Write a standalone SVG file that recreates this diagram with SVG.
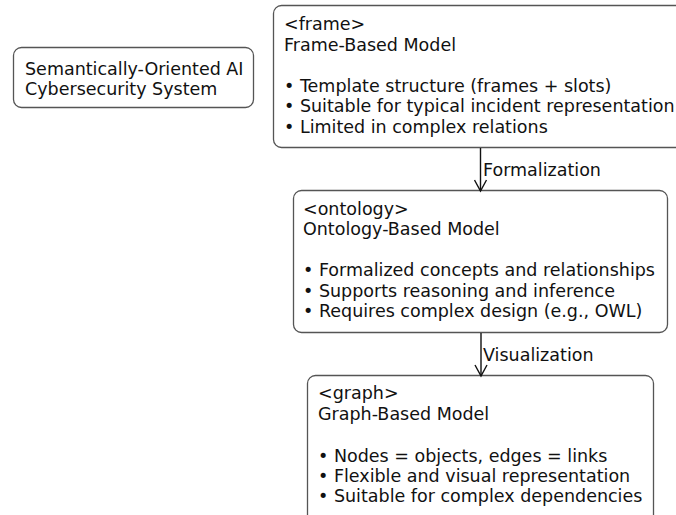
<svg xmlns="http://www.w3.org/2000/svg" width="676" height="515" viewBox="0 0 676 515">
  <defs>
    <marker id="open-arrow" viewBox="0 0 14 14" refX="12" refY="7" markerWidth="14" markerHeight="14" markerUnits="userSpaceOnUse" orient="auto">
      <path d="M1,1 L12,7 L1,13" fill="none" stroke="#111" stroke-width="1.4"/>
    </marker>
  </defs>
  <style>
    .box { fill: #ffffff; stroke: #555555; stroke-width: 1.3; }
    .txt { font-family: "DejaVu Sans", sans-serif; font-size: 17.5px; fill: #111111; }
    .edge { stroke: #111111; stroke-width: 1.4; fill: none; }
  </style>
  <rect width="676" height="515" fill="#ffffff"/>

  <g id="system">
    <rect class="box" x="13.5" y="47.5" width="240" height="60" rx="8"/>
    <text class="txt" x="25" y="75">Semantically-Oriented AI</text>
    <text class="txt" x="25" y="95">Cybersecurity System</text>
  </g>

  <g id="frame">
    <rect class="box" x="273.5" y="5.5" width="430" height="142" rx="8"/>
    <text class="txt" x="284" y="30">&lt;frame&gt;</text>
    <text class="txt" x="284" y="50.5">Frame-Based Model</text>
    <text class="txt" x="284" y="91.5">• Template structure (frames + slots)</text>
    <text class="txt" x="284" y="112">• Suitable for typical incident representation</text>
    <text class="txt" x="284" y="132.5">• Limited in complex relations</text>
  </g>

  <g id="ontology">
    <rect class="box" x="293.5" y="190.5" width="374" height="142" rx="8"/>
    <text class="txt" x="303" y="214.5">&lt;ontology&gt;</text>
    <text class="txt" x="303" y="235">Ontology-Based Model</text>
    <text class="txt" x="303" y="276">• Formalized concepts and relationships</text>
    <text class="txt" x="303" y="296.5">• Supports reasoning and inference</text>
    <text class="txt" x="303" y="317">• Requires complex design (e.g., OWL)</text>
  </g>

  <g id="graph">
    <rect class="box" x="307.5" y="375.5" width="346" height="160" rx="8"/>
    <text class="txt" x="318" y="399">&lt;graph&gt;</text>
    <text class="txt" x="318" y="420">Graph-Based Model</text>
    <text class="txt" x="318" y="461.5">• Nodes = objects, edges = links</text>
    <text class="txt" x="318" y="482">• Flexible and visual representation</text>
    <text class="txt" x="318" y="502">• Suitable for complex dependencies</text>
  </g>

  <g id="connectors">
    <line class="edge" x1="480.5" y1="148" x2="480.5" y2="191" marker-end="url(#open-arrow)"/>
    <text class="txt" x="483" y="175.5">Formalization</text>
    <line class="edge" x1="481" y1="333" x2="481" y2="376" marker-end="url(#open-arrow)"/>
    <text class="txt" x="483" y="361">Visualization</text>
  </g>
</svg>
